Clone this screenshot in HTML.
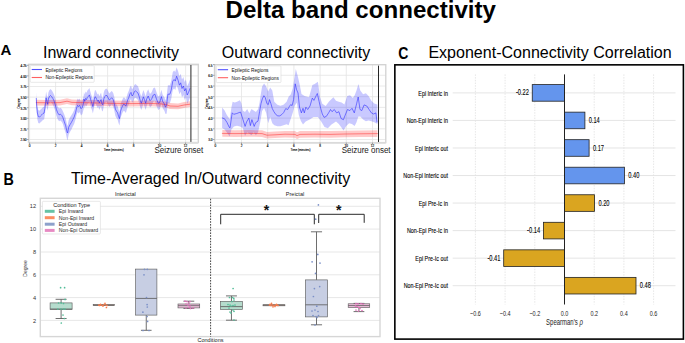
<!DOCTYPE html>
<html><head><meta charset="utf-8"><style>
html,body{margin:0;padding:0;background:#fff;}
body{width:685px;height:343px;overflow:hidden;}
svg{display:block;font-family:"Liberation Sans", sans-serif;}
</style></head><body>
<svg width="685" height="343" viewBox="0 0 685 343">
<text x="225.5" y="18" font-size="24.1" text-anchor="start" font-weight="bold" fill="#000" >Delta band connectivity</text>
<text x="0.4" y="54.6" font-size="15" text-anchor="start" font-weight="bold" fill="#000" >A</text>
<text x="43.0" y="57.5" font-size="16" text-anchor="start" font-weight="normal" fill="#000" >Inward connectivity</text>
<text x="221.8" y="57.5" font-size="16" text-anchor="start" font-weight="normal" fill="#000" >Outward connectivity</text>
<text x="398.2" y="59.1" font-size="15.6" font-weight="bold" transform="translate(398.2,0) scale(0.9,1) translate(-398.2,0)">C</text>
<text x="428.4" y="58.0" font-size="16.05" text-anchor="start" font-weight="normal" fill="#000" >Exponent-Connectivity Correlation</text>
<text x="3.6" y="184.6" font-size="15.6" font-weight="bold" transform="translate(3.6,0) scale(0.92,1) translate(-3.6,0)">B</text>
<text x="71" y="184.4" font-size="16" text-anchor="start" font-weight="normal" fill="#000" >Time-Averaged In/Outward connectivity</text>
<rect x="28.5" y="64.3" width="169.8" height="78.2" fill="#fff" stroke="none" stroke-width="1" />
<line x1="28.5" y1="65.3" x2="198.3" y2="65.3" stroke="#e4e4e4" stroke-width="0.8" />
<line x1="28.5" y1="75.89999999999999" x2="198.3" y2="75.89999999999999" stroke="#e4e4e4" stroke-width="0.8" />
<line x1="28.5" y1="86.5" x2="198.3" y2="86.5" stroke="#e4e4e4" stroke-width="0.8" />
<line x1="28.5" y1="97.1" x2="198.3" y2="97.1" stroke="#e4e4e4" stroke-width="0.8" />
<line x1="28.5" y1="107.69999999999999" x2="198.3" y2="107.69999999999999" stroke="#e4e4e4" stroke-width="0.8" />
<line x1="28.5" y1="118.3" x2="198.3" y2="118.3" stroke="#e4e4e4" stroke-width="0.8" />
<line x1="28.5" y1="128.89999999999998" x2="198.3" y2="128.89999999999998" stroke="#e4e4e4" stroke-width="0.8" />
<line x1="28.5" y1="139.5" x2="198.3" y2="139.5" stroke="#e4e4e4" stroke-width="0.8" />
<line x1="29.6" y1="64.3" x2="29.6" y2="142.5" stroke="#e4e4e4" stroke-width="0.8" />
<line x1="55.6" y1="64.3" x2="55.6" y2="142.5" stroke="#e4e4e4" stroke-width="0.8" />
<line x1="81.6" y1="64.3" x2="81.6" y2="142.5" stroke="#e4e4e4" stroke-width="0.8" />
<line x1="107.6" y1="64.3" x2="107.6" y2="142.5" stroke="#e4e4e4" stroke-width="0.8" />
<line x1="133.6" y1="64.3" x2="133.6" y2="142.5" stroke="#e4e4e4" stroke-width="0.8" />
<line x1="159.6" y1="64.3" x2="159.6" y2="142.5" stroke="#e4e4e4" stroke-width="0.8" />
<line x1="185.6" y1="64.3" x2="185.6" y2="142.5" stroke="#e4e4e4" stroke-width="0.8" />
<polygon points="36.3,92.0 36.7,99.6 37.4,106.6 38.3,110.1 39.4,110.7 40.6,109.5 41.8,108.4 42.9,107.2 44.1,106.6 44.9,101.9 45.6,96.1 46.1,91.4 46.8,94.9 47.6,97.9 48.4,92.6 49.3,90.3 50.5,89.1 51.7,90.3 52.8,92.0 54.0,94.4 55.2,98.1 56.4,103.0 57.7,106.4 59.1,108.5 60.5,107.8 61.8,109.1 62.9,111.2 64.3,114.5 65.7,118.6 67.1,125.0 67.6,125.8 68.7,120.0 70.1,117.3 71.4,115.2 72.8,112.9 74.2,110.1 75.5,106.0 76.6,101.2 77.6,98.5 78.6,99.8 79.7,98.5 81.0,101.9 82.4,100.5 83.8,95.0 83.9,92.2 84.8,94.5 85.6,91.6 86.5,92.8 87.4,90.5 88.6,89.3 89.4,88.1 90.2,91.0 91.2,94.5 92.1,96.9 92.9,99.8 93.5,96.9 94.3,92.8 95.0,89.9 95.8,90.5 96.8,92.8 97.6,94.5 98.4,93.4 99.3,96.3 100.3,94.0 101.1,92.8 101.9,96.9 102.8,98.0 103.8,92.2 104.6,89.9 105.8,88.7 106.9,88.7 108.1,91.0 109.3,93.4 110.4,92.2 111.6,91.0 112.2,91.4 113.2,92.9 114.2,96.5 115.4,102.4 116.5,104.5 117.6,106.0 118.6,109.6 119.5,111.8 120.5,104.5 121.5,101.6 122.7,98.7 123.8,97.2 124.8,98.0 125.9,99.4 126.7,96.5 127.8,92.9 128.8,90.7 130.0,87.0 131.0,85.6 132.1,89.2 133.2,87.8 134.3,84.9 135.5,84.1 136.5,84.9 138.0,86.3 139.0,89.2 140.2,93.6 141.3,96.5 142.3,93.6 143.4,90.0 144.5,92.9 145.7,96.5 146.7,92.2 148.2,89.2 149.3,92.2 150.0,93.9 151.6,92.3 153.3,88.2 154.9,87.4 156.5,92.3 158.2,96.4 159.8,95.5 161.4,89.8 162.7,94.7 164.4,97.2 165.5,100.4 166.6,95.8 167.9,85.2 169.9,85.2 171.2,81.1 172.8,72.1 174.1,70.5 175.3,72.1 176.6,67.2 178.1,71.3 179.4,76.2 180.7,73.8 182.0,79.5 183.4,77.0 184.6,81.9 185.9,79.5 187.2,86.0 188.5,83.5 190.0,79.5 190.0,97.5 188.5,101.5 187.2,104.0 185.9,97.5 184.6,99.9 183.4,95.0 182.0,97.5 180.7,91.8 179.4,94.2 178.1,89.3 176.6,85.2 175.3,90.1 174.1,88.5 172.8,90.1 171.2,99.1 169.9,103.2 167.9,103.2 166.6,113.8 165.5,114.0 164.4,110.8 162.7,108.3 161.4,103.4 159.8,109.1 158.2,110.0 156.5,105.9 154.9,101.0 153.3,101.8 151.6,105.9 150.0,107.5 149.3,105.8 148.2,102.8 146.7,105.8 145.7,110.1 144.5,106.5 143.4,103.6 142.3,107.2 141.3,110.1 140.2,107.2 139.0,102.8 138.0,99.9 136.5,98.5 135.5,97.7 134.3,98.5 133.2,101.4 132.1,102.8 131.0,99.2 130.0,100.6 128.8,104.3 127.8,106.5 126.7,110.1 125.9,113.0 124.8,111.6 123.8,110.8 122.7,112.3 121.5,115.2 120.5,118.1 119.5,125.4 118.6,123.2 117.6,119.6 116.5,118.1 115.4,116.0 114.2,110.1 113.2,106.5 112.2,105.0 111.6,104.6 110.4,105.8 109.3,107.0 108.1,104.6 106.9,102.3 105.8,102.3 104.6,103.5 103.8,105.8 102.8,111.6 101.9,110.5 101.1,106.4 100.3,107.6 99.3,109.9 98.4,107.0 97.6,108.1 96.8,106.4 95.8,104.1 95.0,103.5 94.3,106.4 93.5,110.5 92.9,113.4 92.1,110.5 91.2,108.1 90.2,104.6 89.4,101.7 88.6,102.9 87.4,104.1 86.5,106.4 85.6,105.2 84.8,108.1 83.9,105.8 83.8,108.6 82.4,114.1 81.0,115.5 79.7,112.1 78.6,113.4 77.6,112.1 76.6,114.8 75.5,119.6 74.2,123.7 72.8,126.5 71.4,129.6 70.1,131.7 68.7,134.4 67.6,140.2 67.1,139.4 65.7,133.0 64.3,128.9 62.9,124.0 61.8,121.9 60.5,120.6 59.1,121.3 57.7,119.2 56.4,115.8 55.2,110.9 54.0,107.2 52.8,104.8 51.7,103.1 50.5,101.9 49.3,103.1 48.4,105.4 47.6,110.7 46.8,107.7 46.1,104.2 45.6,108.9 44.9,114.7 44.1,119.4 42.9,120.0 41.8,121.2 40.6,122.3 39.4,123.5 38.3,122.9 37.4,119.4 36.7,112.4 36.3,104.8" fill="#0000ff" stroke="none" fill-opacity="0.21"/>
<polygon points="36.2,99.7 50.0,99.9 60.0,99.7 67.0,98.3 72.0,99.5 90.0,99.9 110.0,100.4 130.0,100.7 150.0,100.5 160.0,100.9 166.0,101.7 170.0,103.1 178.0,103.4 184.0,102.1 190.0,101.3 190.0,107.1 184.0,107.9 178.0,109.2 170.0,108.9 166.0,107.5 160.0,106.7 150.0,106.3 130.0,106.5 110.0,106.2 90.0,105.7 72.0,105.3 67.0,104.1 60.0,105.5 50.0,105.7 36.2,105.5" fill="#ff0000" stroke="none" fill-opacity="0.21"/>
<polyline points="36.2,102.6 50.0,102.8 60.0,102.6 67.0,101.2 72.0,102.4 90.0,102.8 110.0,103.3 130.0,103.6 150.0,103.4 160.0,103.8 166.0,104.6 170.0,106.0 178.0,106.3 184.0,105.0 190.0,104.2" fill="none" stroke="#ff2a2a" stroke-width="0.85" stroke-linejoin="round" stroke-linecap="round" stroke-opacity="0.6"/>
<polyline points="36.3,98.4 36.7,106.0 37.4,113.0 38.3,116.5 39.4,117.1 40.6,115.9 41.8,114.8 42.9,113.6 44.1,113.0 44.9,108.3 45.6,102.5 46.1,97.8 46.8,101.3 47.6,104.3 48.4,99.0 49.3,96.7 50.5,95.5 51.7,96.7 52.8,98.4 54.0,100.8 55.2,104.5 56.4,109.4 57.7,112.8 59.1,114.9 60.5,114.2 61.8,115.5 62.9,117.6 64.3,121.7 65.7,125.8 67.1,132.2 67.6,133.0 68.7,127.2 70.1,124.5 71.4,122.4 72.8,119.7 74.2,116.9 75.5,112.8 76.6,108.0 77.6,105.3 78.6,106.6 79.7,105.3 81.0,108.7 82.4,107.3 83.8,101.8 83.9,99.0 84.8,101.3 85.6,98.4 86.5,99.6 87.4,97.3 88.6,96.1 89.4,94.9 90.2,97.8 91.2,101.3 92.1,103.7 92.9,106.6 93.5,103.7 94.3,99.6 95.0,96.7 95.8,97.3 96.8,99.6 97.6,101.3 98.4,100.2 99.3,103.1 100.3,100.8 101.1,99.6 101.9,103.7 102.8,104.8 103.8,99.0 104.6,96.7 105.8,95.5 106.9,95.5 108.1,97.8 109.3,100.2 110.4,99.0 111.6,97.8 112.2,98.2 113.2,99.7 114.2,103.3 115.4,109.2 116.5,111.3 117.6,112.8 118.6,116.4 119.5,118.6 120.5,111.3 121.5,108.4 122.7,105.5 123.8,104.0 124.8,104.8 125.9,106.2 126.7,103.3 127.8,99.7 128.8,97.5 130.0,93.8 131.0,92.4 132.1,96.0 133.2,94.6 134.3,91.7 135.5,90.9 136.5,91.7 138.0,93.1 139.0,96.0 140.2,100.4 141.3,103.3 142.3,100.4 143.4,96.8 144.5,99.7 145.7,103.3 146.7,99.0 148.2,96.0 149.3,99.0 150.0,100.7 151.6,99.1 153.3,95.0 154.9,94.2 156.5,99.1 158.2,103.2 159.8,102.3 161.4,96.6 162.7,101.5 164.4,104.0 165.5,107.2 166.6,104.8 167.9,94.2 169.9,94.2 171.2,90.1 172.8,81.1 174.1,79.5 175.3,81.1 176.6,76.2 178.1,80.3 179.4,85.2 180.7,82.8 182.0,88.5 183.4,86.0 184.6,90.9 185.9,88.5 187.2,95.0 188.5,92.5 190.0,88.5" fill="none" stroke="#2525ff" stroke-width="0.8" stroke-linejoin="round" stroke-linecap="round" stroke-opacity="0.7"/>
<line x1="190.9" y1="65.1" x2="190.9" y2="142.5" stroke="#3a3a3a" stroke-width="1.1" />
<rect x="28.5" y="64.3" width="169.8" height="78.2" fill="none" stroke="#d2d2d2" stroke-width="1.3" />
<line x1="28.5" y1="143.1" x2="198.3" y2="143.1" stroke="#e2e2e2" stroke-width="1.6" />
<line x1="26.9" y1="65.3" x2="28.5" y2="65.3" stroke="#555" stroke-width="0.5" />
<text x="26.6" y="67.2" font-size="3.1" text-anchor="end" font-weight="normal" fill="#000" stroke="#000" stroke-width="0.12">4.25</text>
<line x1="26.9" y1="75.89999999999999" x2="28.5" y2="75.89999999999999" stroke="#555" stroke-width="0.5" />
<text x="26.6" y="77.8" font-size="3.1" text-anchor="end" font-weight="normal" fill="#000" stroke="#000" stroke-width="0.12">4.00</text>
<line x1="26.9" y1="86.5" x2="28.5" y2="86.5" stroke="#555" stroke-width="0.5" />
<text x="26.6" y="88.4" font-size="3.1" text-anchor="end" font-weight="normal" fill="#000" stroke="#000" stroke-width="0.12">3.75</text>
<line x1="26.9" y1="97.1" x2="28.5" y2="97.1" stroke="#555" stroke-width="0.5" />
<text x="26.6" y="99.0" font-size="3.1" text-anchor="end" font-weight="normal" fill="#000" stroke="#000" stroke-width="0.12">3.50</text>
<line x1="26.9" y1="107.69999999999999" x2="28.5" y2="107.69999999999999" stroke="#555" stroke-width="0.5" />
<text x="26.6" y="109.6" font-size="3.1" text-anchor="end" font-weight="normal" fill="#000" stroke="#000" stroke-width="0.12">3.25</text>
<line x1="26.9" y1="118.3" x2="28.5" y2="118.3" stroke="#555" stroke-width="0.5" />
<text x="26.6" y="120.2" font-size="3.1" text-anchor="end" font-weight="normal" fill="#000" stroke="#000" stroke-width="0.12">3.00</text>
<line x1="26.9" y1="128.89999999999998" x2="28.5" y2="128.89999999999998" stroke="#555" stroke-width="0.5" />
<text x="26.6" y="130.79999999999998" font-size="3.1" text-anchor="end" font-weight="normal" fill="#000" stroke="#000" stroke-width="0.12">2.75</text>
<line x1="26.9" y1="139.5" x2="28.5" y2="139.5" stroke="#555" stroke-width="0.5" />
<text x="26.6" y="141.4" font-size="3.1" text-anchor="end" font-weight="normal" fill="#000" stroke="#000" stroke-width="0.12">2.50</text>
<line x1="29.6" y1="142.5" x2="29.6" y2="144.1" stroke="#555" stroke-width="0.5" />
<text x="29.6" y="147.1" font-size="3.1" text-anchor="middle" font-weight="normal" fill="#000" stroke="#000" stroke-width="0.12">0</text>
<line x1="55.6" y1="142.5" x2="55.6" y2="144.1" stroke="#555" stroke-width="0.5" />
<text x="55.6" y="147.1" font-size="3.1" text-anchor="middle" font-weight="normal" fill="#000" stroke="#000" stroke-width="0.12">2</text>
<line x1="81.6" y1="142.5" x2="81.6" y2="144.1" stroke="#555" stroke-width="0.5" />
<text x="81.6" y="147.1" font-size="3.1" text-anchor="middle" font-weight="normal" fill="#000" stroke="#000" stroke-width="0.12">4</text>
<line x1="107.6" y1="142.5" x2="107.6" y2="144.1" stroke="#555" stroke-width="0.5" />
<text x="107.6" y="147.1" font-size="3.1" text-anchor="middle" font-weight="normal" fill="#000" stroke="#000" stroke-width="0.12">6</text>
<line x1="133.6" y1="142.5" x2="133.6" y2="144.1" stroke="#555" stroke-width="0.5" />
<text x="133.6" y="147.1" font-size="3.1" text-anchor="middle" font-weight="normal" fill="#000" stroke="#000" stroke-width="0.12">8</text>
<line x1="159.6" y1="142.5" x2="159.6" y2="144.1" stroke="#555" stroke-width="0.5" />
<text x="159.6" y="147.1" font-size="3.1" text-anchor="middle" font-weight="normal" fill="#000" stroke="#000" stroke-width="0.12">10</text>
<line x1="185.6" y1="142.5" x2="185.6" y2="144.1" stroke="#555" stroke-width="0.5" />
<text x="185.6" y="147.1" font-size="3.1" text-anchor="middle" font-weight="normal" fill="#000" stroke="#000" stroke-width="0.12">12</text>
<rect x="30.2" y="65.6" width="64.0" height="16.700000000000003" fill="#fff" stroke="#d8d8d8" stroke-width="0.6" rx="1" fill-opacity="0.85"/>
<line x1="31.7" y1="69.5" x2="42.0" y2="69.5" stroke="#5050ff" stroke-width="1.1" />
<line x1="31.7" y1="77.5" x2="42.0" y2="77.5" stroke="#ff6060" stroke-width="1.1" />
<text x="45.4" y="71.8" font-size="6" fill="#111" transform="translate(45.4,0) scale(0.8,1) translate(-45.4,0)">Epileptic Regions</text>
<text x="45.4" y="79.39999999999999" font-size="6" fill="#111" transform="translate(45.4,0) scale(0.8,1) translate(-45.4,0)">Non-Epileptic Regions</text>
<text x="0" y="0" font-size="3.1" fill="#000" stroke="#000" stroke-width="0.1" text-anchor="middle" transform="translate(20.4,103.4) rotate(-90)">Degree</text>
<text x="113.7" y="150.6" font-size="3.0" text-anchor="middle" font-weight="normal" fill="#000" stroke="#000" stroke-width="0.1">Time (minutes)</text>
<text x="154.4" y="152.6" font-size="8.6" fill="#1a1a1a" transform="translate(154.4,0) scale(0.93,1) translate(-154.4,0)">Seizure onset</text>
<rect x="214.5" y="64.7" width="171.3" height="77.89999999999999" fill="#fff" stroke="none" stroke-width="1" />
<line x1="214.5" y1="64.6" x2="385.8" y2="64.6" stroke="#e4e4e4" stroke-width="0.8" />
<line x1="214.5" y1="75.3" x2="385.8" y2="75.3" stroke="#e4e4e4" stroke-width="0.8" />
<line x1="214.5" y1="86.0" x2="385.8" y2="86.0" stroke="#e4e4e4" stroke-width="0.8" />
<line x1="214.5" y1="96.69999999999999" x2="385.8" y2="96.69999999999999" stroke="#e4e4e4" stroke-width="0.8" />
<line x1="214.5" y1="107.39999999999999" x2="385.8" y2="107.39999999999999" stroke="#e4e4e4" stroke-width="0.8" />
<line x1="214.5" y1="118.1" x2="385.8" y2="118.1" stroke="#e4e4e4" stroke-width="0.8" />
<line x1="214.5" y1="128.79999999999998" x2="385.8" y2="128.79999999999998" stroke="#e4e4e4" stroke-width="0.8" />
<line x1="214.5" y1="139.5" x2="385.8" y2="139.5" stroke="#e4e4e4" stroke-width="0.8" />
<line x1="215.3" y1="64.7" x2="215.3" y2="142.6" stroke="#e4e4e4" stroke-width="0.8" />
<line x1="241.5" y1="64.7" x2="241.5" y2="142.6" stroke="#e4e4e4" stroke-width="0.8" />
<line x1="267.7" y1="64.7" x2="267.7" y2="142.6" stroke="#e4e4e4" stroke-width="0.8" />
<line x1="293.9" y1="64.7" x2="293.9" y2="142.6" stroke="#e4e4e4" stroke-width="0.8" />
<line x1="320.1" y1="64.7" x2="320.1" y2="142.6" stroke="#e4e4e4" stroke-width="0.8" />
<line x1="346.3" y1="64.7" x2="346.3" y2="142.6" stroke="#e4e4e4" stroke-width="0.8" />
<line x1="372.5" y1="64.7" x2="372.5" y2="142.6" stroke="#e4e4e4" stroke-width="0.8" />
<polygon points="222.1,107.5 224.6,110.4 226.7,114.8 229.7,119.2 231.4,107.5 232.6,101.7 234.8,102.4 237.0,101.7 239.9,100.2 241.3,103.1 242.8,110.4 245.0,111.9 247.2,109.0 249.3,113.3 251.5,109.0 253.7,110.4 255.9,111.9 258.1,109.0 259.5,103.1 260.5,96.0 262.1,86.4 264.1,83.4 266.2,86.4 268.2,91.6 270.2,87.5 272.3,90.5 274.3,101.8 277.4,104.8 280.4,105.8 283.5,104.8 286.6,101.8 288.6,96.7 290.7,94.6 292.7,88.5 294.7,76.2 295.8,69.1 297.8,76.2 299.8,85.0 301.5,94.0 304.6,96.1 309.0,97.2 312.4,85.0 314.6,83.9 317.9,81.7 320.1,97.2 322.3,103.8 325.7,106.0 329.0,101.6 333.4,97.2 336.0,100.8 338.8,101.7 341.6,102.6 344.4,104.5 347.2,96.1 350.0,95.2 352.8,98.0 354.7,95.2 356.5,90.5 358.4,84.0 360.3,90.5 363.1,94.3 365.9,93.3 368.6,96.1 371.4,100.8 374.2,103.6 377.4,104.5 377.4,124.1 374.2,122.2 371.4,121.3 368.6,120.4 365.9,121.3 363.1,119.4 360.3,116.6 358.4,116.6 356.5,122.2 354.7,126.0 351.9,124.1 349.1,123.2 346.3,126.0 343.5,130.6 341.6,127.8 338.8,124.1 336.0,121.5 331.2,124.8 327.9,128.2 324.5,127.1 321.2,121.5 317.9,117.1 313.5,117.1 310.2,119.3 305.7,121.5 303.0,124.5 300.9,121.1 298.8,115.0 296.8,102.8 294.7,105.8 292.7,113.0 290.7,119.1 288.6,125.2 286.6,124.2 283.5,125.2 280.4,126.2 277.4,126.2 274.3,125.2 272.3,123.2 270.2,117.1 268.2,123.2 266.2,113.0 264.1,107.9 262.1,110.9 260.3,122.0 258.1,132.3 255.9,135.2 253.7,132.3 251.5,135.2 249.3,133.7 247.2,132.3 245.0,135.9 242.8,127.9 239.9,126.4 237.0,125.7 234.0,126.4 231.4,129.4 229.7,136.6 226.7,132.3 224.6,129.4 222.1,127.9" fill="#0000ff" stroke="none" fill-opacity="0.21"/>
<polygon points="222.3,130.1 235.0,130.3 250.0,130.1 262.0,130.3 267.0,131.9 275.0,131.5 285.0,130.9 295.0,131.1 297.0,132.3 300.0,131.1 315.0,130.9 330.0,131.1 345.0,130.7 360.0,130.5 377.4,130.3 377.4,136.9 360.0,137.1 345.0,137.3 330.0,137.7 315.0,137.5 300.0,137.7 297.0,138.9 295.0,137.7 285.0,137.5 275.0,138.1 267.0,138.5 262.0,136.9 250.0,136.7 235.0,136.9 222.3,136.7" fill="#ff0000" stroke="none" fill-opacity="0.21"/>
<polyline points="222.3,133.4 235.0,133.6 250.0,133.4 262.0,133.6 267.0,135.2 275.0,134.8 285.0,134.2 295.0,134.4 297.0,135.6 300.0,134.4 315.0,134.2 330.0,134.4 345.0,134.0 360.0,133.8 377.4,133.6" fill="none" stroke="#ff2a2a" stroke-width="0.85" stroke-linejoin="round" stroke-linecap="round" stroke-opacity="0.6"/>
<polyline points="222.3,118.0 224.6,118.8 227.0,122.5 229.2,127.2 230.0,127.9 232.2,112.8 233.7,114.3 236.8,113.5 240.5,112.0 242.0,116.5 245.1,126.4 246.6,121.9 248.9,118.0 250.4,125.6 251.9,119.6 254.2,126.4 255.7,122.6 258.0,121.1 259.6,111.5 261.0,103.6 262.4,98.7 263.9,95.7 265.3,97.7 266.9,103.6 268.3,104.6 269.5,99.6 270.9,103.6 272.3,108.6 273.8,111.5 275.8,114.5 277.8,115.9 279.8,115.9 281.8,114.5 283.7,112.5 285.7,108.6 287.7,109.5 289.3,106.6 290.7,104.6 292.1,105.6 293.6,99.6 295.2,83.8 296.6,89.7 298.0,93.0 299.5,107.2 301.4,112.9 303.0,108.3 304.3,112.9 305.9,107.2 307.7,109.5 310.0,106.0 312.3,98.1 313.9,100.4 316.1,95.8 317.3,93.5 319.1,101.5 320.7,108.3 322.3,114.0 324.1,117.4 326.4,116.3 328.6,112.9 330.5,109.5 332.0,111.7 334.3,109.5 336.6,112.9 338.9,111.7 341.1,118.5 343.4,119.7 345.2,115.1 347.5,109.5 349.8,110.6 352.0,108.3 354.3,112.9 356.6,103.8 358.2,97.0 360.0,109.5 361.8,110.6 364.1,104.9 366.8,106.0 369.1,109.5 371.4,112.9 373.6,114.0 375.9,112.9 377.0,122.0" fill="none" stroke="#2525ff" stroke-width="0.8" stroke-linejoin="round" stroke-linecap="round" stroke-opacity="0.7"/>
<line x1="378.5" y1="65.5" x2="378.5" y2="142.6" stroke="#262626" stroke-width="1.0" />
<rect x="214.5" y="64.7" width="171.3" height="77.89999999999999" fill="none" stroke="#d2d2d2" stroke-width="1.3" />
<line x1="214.5" y1="143.2" x2="385.8" y2="143.2" stroke="#e2e2e2" stroke-width="1.6" />
<line x1="212.9" y1="64.6" x2="214.5" y2="64.6" stroke="#555" stroke-width="0.5" />
<text x="212.6" y="66.5" font-size="3.1" text-anchor="end" font-weight="normal" fill="#000" stroke="#000" stroke-width="0.12">6.5</text>
<line x1="212.9" y1="75.3" x2="214.5" y2="75.3" stroke="#555" stroke-width="0.5" />
<text x="212.6" y="77.2" font-size="3.1" text-anchor="end" font-weight="normal" fill="#000" stroke="#000" stroke-width="0.12">6.0</text>
<line x1="212.9" y1="86.0" x2="214.5" y2="86.0" stroke="#555" stroke-width="0.5" />
<text x="212.6" y="87.9" font-size="3.1" text-anchor="end" font-weight="normal" fill="#000" stroke="#000" stroke-width="0.12">5.5</text>
<line x1="212.9" y1="96.69999999999999" x2="214.5" y2="96.69999999999999" stroke="#555" stroke-width="0.5" />
<text x="212.6" y="98.6" font-size="3.1" text-anchor="end" font-weight="normal" fill="#000" stroke="#000" stroke-width="0.12">5.0</text>
<line x1="212.9" y1="107.39999999999999" x2="214.5" y2="107.39999999999999" stroke="#555" stroke-width="0.5" />
<text x="212.6" y="109.3" font-size="3.1" text-anchor="end" font-weight="normal" fill="#000" stroke="#000" stroke-width="0.12">4.5</text>
<line x1="212.9" y1="118.1" x2="214.5" y2="118.1" stroke="#555" stroke-width="0.5" />
<text x="212.6" y="120.0" font-size="3.1" text-anchor="end" font-weight="normal" fill="#000" stroke="#000" stroke-width="0.12">4.0</text>
<line x1="212.9" y1="128.79999999999998" x2="214.5" y2="128.79999999999998" stroke="#555" stroke-width="0.5" />
<text x="212.6" y="130.7" font-size="3.1" text-anchor="end" font-weight="normal" fill="#000" stroke="#000" stroke-width="0.12">3.5</text>
<line x1="212.9" y1="139.5" x2="214.5" y2="139.5" stroke="#555" stroke-width="0.5" />
<text x="212.6" y="141.4" font-size="3.1" text-anchor="end" font-weight="normal" fill="#000" stroke="#000" stroke-width="0.12">3.0</text>
<line x1="215.3" y1="142.6" x2="215.3" y2="144.2" stroke="#555" stroke-width="0.5" />
<text x="215.3" y="147.2" font-size="3.1" text-anchor="middle" font-weight="normal" fill="#000" stroke="#000" stroke-width="0.12">0</text>
<line x1="241.5" y1="142.6" x2="241.5" y2="144.2" stroke="#555" stroke-width="0.5" />
<text x="241.5" y="147.2" font-size="3.1" text-anchor="middle" font-weight="normal" fill="#000" stroke="#000" stroke-width="0.12">2</text>
<line x1="267.7" y1="142.6" x2="267.7" y2="144.2" stroke="#555" stroke-width="0.5" />
<text x="267.7" y="147.2" font-size="3.1" text-anchor="middle" font-weight="normal" fill="#000" stroke="#000" stroke-width="0.12">4</text>
<line x1="293.9" y1="142.6" x2="293.9" y2="144.2" stroke="#555" stroke-width="0.5" />
<text x="293.9" y="147.2" font-size="3.1" text-anchor="middle" font-weight="normal" fill="#000" stroke="#000" stroke-width="0.12">6</text>
<line x1="320.1" y1="142.6" x2="320.1" y2="144.2" stroke="#555" stroke-width="0.5" />
<text x="320.1" y="147.2" font-size="3.1" text-anchor="middle" font-weight="normal" fill="#000" stroke="#000" stroke-width="0.12">8</text>
<line x1="346.3" y1="142.6" x2="346.3" y2="144.2" stroke="#555" stroke-width="0.5" />
<text x="346.3" y="147.2" font-size="3.1" text-anchor="middle" font-weight="normal" fill="#000" stroke="#000" stroke-width="0.12">10</text>
<line x1="372.5" y1="142.6" x2="372.5" y2="144.2" stroke="#555" stroke-width="0.5" />
<text x="372.5" y="147.2" font-size="3.1" text-anchor="middle" font-weight="normal" fill="#000" stroke="#000" stroke-width="0.12">12</text>
<rect x="216.3" y="65.8" width="64.69999999999999" height="16.799999999999997" fill="#fff" stroke="#d8d8d8" stroke-width="0.6" rx="1" fill-opacity="0.85"/>
<line x1="217.8" y1="69.7" x2="228.10000000000002" y2="69.7" stroke="#5050ff" stroke-width="1.1" />
<line x1="217.8" y1="77.7" x2="228.10000000000002" y2="77.7" stroke="#ff6060" stroke-width="1.1" />
<text x="231.5" y="72.0" font-size="6" fill="#111" transform="translate(231.5,0) scale(0.8,1) translate(-231.5,0)">Epileptic Regions</text>
<text x="231.5" y="79.6" font-size="6" fill="#111" transform="translate(231.5,0) scale(0.8,1) translate(-231.5,0)">Non-Epileptic Regions</text>
<text x="0" y="0" font-size="3.1" fill="#000" stroke="#000" stroke-width="0.1" text-anchor="middle" transform="translate(207.6,103.65) rotate(-90)">Degree</text>
<text x="300.5" y="150.6" font-size="3.0" text-anchor="middle" font-weight="normal" fill="#000" stroke="#000" stroke-width="0.1">Time (minutes)</text>
<text x="341.7" y="152.6" font-size="8.6" fill="#1a1a1a" transform="translate(341.7,0) scale(0.93,1) translate(-341.7,0)">Seizure onset</text>
<rect x="40.3" y="198.3" width="339.7" height="138.3" fill="#fff" stroke="none" stroke-width="1" />
<line x1="40.3" y1="206.3" x2="380.0" y2="206.3" stroke="#e4e4e4" stroke-width="0.9" />
<line x1="40.3" y1="229.1" x2="380.0" y2="229.1" stroke="#e4e4e4" stroke-width="0.9" />
<line x1="40.3" y1="252.0" x2="380.0" y2="252.0" stroke="#e4e4e4" stroke-width="0.9" />
<line x1="40.3" y1="274.8" x2="380.0" y2="274.8" stroke="#e4e4e4" stroke-width="0.9" />
<line x1="40.3" y1="297.6" x2="380.0" y2="297.6" stroke="#e4e4e4" stroke-width="0.9" />
<line x1="40.3" y1="320.4" x2="380.0" y2="320.4" stroke="#e4e4e4" stroke-width="0.9" />
<rect x="40.3" y="198.3" width="339.7" height="138.3" fill="none" stroke="#d6d6d6" stroke-width="1.4" />
<text x="36.0" y="208.3" font-size="5.6" text-anchor="end" font-weight="normal" fill="#333" >12</text>
<text x="36.0" y="231.1" font-size="5.6" text-anchor="end" font-weight="normal" fill="#333" >10</text>
<text x="36.0" y="254.0" font-size="5.6" text-anchor="end" font-weight="normal" fill="#333" >8</text>
<text x="36.0" y="276.8" font-size="5.6" text-anchor="end" font-weight="normal" fill="#333" >6</text>
<text x="36.0" y="299.6" font-size="5.6" text-anchor="end" font-weight="normal" fill="#333" >4</text>
<text x="36.0" y="323.0" font-size="5.6" text-anchor="end" font-weight="normal" fill="#333" >2</text>
<text x="0" y="0" font-size="5" fill="#333" text-anchor="middle" transform="translate(26.8,268.5) rotate(-90)">Degree</text>
<text x="125.4" y="196.0" font-size="5.5" text-anchor="middle" font-weight="normal" fill="#222" >Interictal</text>
<text x="295.0" y="196.0" font-size="5.5" text-anchor="middle" font-weight="normal" fill="#222" >Preictal</text>
<text x="210.5" y="342.0" font-size="5.5" text-anchor="middle" font-weight="normal" fill="#222" >Conditions</text>
<line x1="210.6" y1="198.8" x2="210.6" y2="336.6" stroke="#444" stroke-width="1.0" stroke-dasharray="1.6,1.2"/>
<line x1="61.099999999999994" y1="299.3" x2="61.099999999999994" y2="302.9" stroke="#5e5e5e" stroke-width="0.9" />
<line x1="55.599999999999994" y1="299.3" x2="66.6" y2="299.3" stroke="#5e5e5e" stroke-width="0.9" />
<line x1="61.099999999999994" y1="309.4" x2="61.099999999999994" y2="318.5" stroke="#5e5e5e" stroke-width="0.9" />
<line x1="55.599999999999994" y1="318.5" x2="66.6" y2="318.5" stroke="#5e5e5e" stroke-width="0.9" />
<rect x="50.1" y="302.9" width="21.999999999999993" height="6.5" fill="#b5dccd" stroke="#5e5e5e" stroke-width="0.65" />
<line x1="50.1" y1="309.0" x2="72.1" y2="309.0" stroke="#5e5e5e" stroke-width="0.85" />
<circle cx="60.6" cy="287.7" r="0.85" fill="#52bd98"/>
<circle cx="64.6" cy="287.7" r="0.85" fill="#52bd98"/>
<circle cx="65.1" cy="299.4" r="0.85" fill="#52bd98"/>
<circle cx="58.6" cy="303" r="0.85" fill="#52bd98"/>
<circle cx="61.2" cy="302.9" r="0.85" fill="#52bd98"/>
<circle cx="63.5" cy="303.5" r="0.85" fill="#52bd98"/>
<circle cx="57.8" cy="309" r="0.85" fill="#52bd98"/>
<circle cx="61" cy="309" r="0.85" fill="#52bd98"/>
<circle cx="63.5" cy="309" r="0.85" fill="#52bd98"/>
<circle cx="65" cy="309" r="0.85" fill="#52bd98"/>
<circle cx="63" cy="315" r="0.85" fill="#52bd98"/>
<circle cx="64.4" cy="318.5" r="0.85" fill="#52bd98"/>
<circle cx="61.3" cy="323" r="0.85" fill="#52bd98"/>
<rect x="93.2" y="304.6" width="21.099999999999994" height="1.0" fill="#fdc6b0" stroke="#5e5e5e" stroke-width="0.65" />
<line x1="93.2" y1="305.1" x2="114.3" y2="305.1" stroke="#5e5e5e" stroke-width="0.85" />
<circle cx="98.8" cy="305" r="0.85" fill="#fb7d4c"/>
<circle cx="99.5" cy="305.5" r="0.85" fill="#fb7d4c"/>
<circle cx="101" cy="305" r="0.85" fill="#fb7d4c"/>
<circle cx="102.5" cy="305.5" r="0.85" fill="#fb7d4c"/>
<circle cx="104" cy="304.5" r="0.85" fill="#fb7d4c"/>
<circle cx="105" cy="303.3" r="0.85" fill="#fb7d4c"/>
<circle cx="106" cy="305" r="0.85" fill="#fb7d4c"/>
<circle cx="107" cy="305.5" r="0.85" fill="#fb7d4c"/>
<circle cx="106.4" cy="307.5" r="0.85" fill="#fb7d4c"/>
<circle cx="103" cy="306" r="0.85" fill="#fb7d4c"/>
<circle cx="100.5" cy="304.4" r="0.85" fill="#fb7d4c"/>
<line x1="146.25" y1="315.1" x2="146.25" y2="330.3" stroke="#5e5e5e" stroke-width="0.9" />
<line x1="140.925" y1="330.3" x2="151.575" y2="330.3" stroke="#5e5e5e" stroke-width="0.9" />
<rect x="135.6" y="269.1" width="21.30000000000001" height="46.0" fill="#c7cee3" stroke="#5e5e5e" stroke-width="0.65" />
<line x1="135.6" y1="298.4" x2="156.9" y2="298.4" stroke="#5e5e5e" stroke-width="0.85" />
<circle cx="144" cy="274.8" r="0.85" fill="#7b90c8"/>
<circle cx="144.5" cy="269.3" r="0.85" fill="#7b90c8"/>
<circle cx="147.3" cy="269.3" r="0.85" fill="#7b90c8"/>
<circle cx="146.5" cy="297.5" r="0.85" fill="#7b90c8"/>
<circle cx="147.1" cy="304.6" r="0.85" fill="#7b90c8"/>
<circle cx="147.3" cy="307" r="0.85" fill="#7b90c8"/>
<circle cx="142.9" cy="312.2" r="0.85" fill="#7b90c8"/>
<circle cx="147.1" cy="316.5" r="0.85" fill="#7b90c8"/>
<circle cx="147.6" cy="321.4" r="0.85" fill="#7b90c8"/>
<circle cx="143" cy="330.5" r="0.85" fill="#7b90c8"/>
<circle cx="149" cy="330.5" r="0.85" fill="#7b90c8"/>
<line x1="188.85" y1="301.2" x2="188.85" y2="304.0" stroke="#5e5e5e" stroke-width="0.9" />
<line x1="183.425" y1="301.2" x2="194.27499999999998" y2="301.2" stroke="#5e5e5e" stroke-width="0.9" />
<line x1="188.85" y1="307.9" x2="188.85" y2="308.4" stroke="#5e5e5e" stroke-width="0.9" />
<line x1="183.425" y1="308.4" x2="194.27499999999998" y2="308.4" stroke="#5e5e5e" stroke-width="0.9" />
<rect x="178.0" y="304.0" width="21.69999999999999" height="3.8999999999999773" fill="#f3c4e1" stroke="#5e5e5e" stroke-width="0.65" />
<line x1="178.0" y1="305.7" x2="199.7" y2="305.7" stroke="#5e5e5e" stroke-width="0.85" />
<circle cx="185" cy="301.2" r="0.85" fill="#e673bd"/>
<circle cx="187" cy="301.5" r="0.85" fill="#e673bd"/>
<circle cx="190" cy="301.5" r="0.85" fill="#e673bd"/>
<circle cx="186" cy="304" r="0.85" fill="#e673bd"/>
<circle cx="188" cy="305" r="0.85" fill="#e673bd"/>
<circle cx="190" cy="306" r="0.85" fill="#e673bd"/>
<circle cx="189" cy="307.5" r="0.85" fill="#e673bd"/>
<circle cx="190.5" cy="308.5" r="0.85" fill="#e673bd"/>
<circle cx="186" cy="308" r="0.85" fill="#e673bd"/>
<circle cx="193" cy="308" r="0.85" fill="#e673bd"/>
<circle cx="188.5" cy="303" r="0.85" fill="#e673bd"/>
<line x1="231.45" y1="295.9" x2="231.45" y2="301.4" stroke="#5e5e5e" stroke-width="0.9" />
<line x1="225.975" y1="295.9" x2="236.92499999999998" y2="295.9" stroke="#5e5e5e" stroke-width="0.9" />
<line x1="231.45" y1="309.4" x2="231.45" y2="320.2" stroke="#5e5e5e" stroke-width="0.9" />
<line x1="225.975" y1="320.2" x2="236.92499999999998" y2="320.2" stroke="#5e5e5e" stroke-width="0.9" />
<rect x="220.5" y="301.4" width="21.900000000000006" height="8.0" fill="#b5dccd" stroke="#5e5e5e" stroke-width="0.65" />
<line x1="220.5" y1="306.6" x2="242.4" y2="306.6" stroke="#5e5e5e" stroke-width="0.85" />
<circle cx="233.1" cy="288.5" r="0.85" fill="#52bd98"/>
<circle cx="229.5" cy="297.5" r="0.85" fill="#52bd98"/>
<circle cx="232.5" cy="297.5" r="0.85" fill="#52bd98"/>
<circle cx="233.8" cy="298.3" r="0.85" fill="#52bd98"/>
<circle cx="234" cy="300" r="0.85" fill="#52bd98"/>
<circle cx="232" cy="301.5" r="0.85" fill="#52bd98"/>
<circle cx="228" cy="304.5" r="0.85" fill="#52bd98"/>
<circle cx="230" cy="305" r="0.85" fill="#52bd98"/>
<circle cx="231" cy="306" r="0.85" fill="#52bd98"/>
<circle cx="233" cy="305.5" r="0.85" fill="#52bd98"/>
<circle cx="235" cy="305" r="0.85" fill="#52bd98"/>
<circle cx="229" cy="308" r="0.85" fill="#52bd98"/>
<circle cx="233" cy="310" r="0.85" fill="#52bd98"/>
<circle cx="234" cy="311.3" r="0.85" fill="#52bd98"/>
<circle cx="230" cy="312" r="0.85" fill="#52bd98"/>
<circle cx="231" cy="313" r="0.85" fill="#52bd98"/>
<circle cx="234" cy="320" r="0.85" fill="#52bd98"/>
<rect x="263.0" y="304.7" width="21.899999999999977" height="1.1000000000000227" fill="#fdc6b0" stroke="#5e5e5e" stroke-width="0.65" />
<line x1="263.0" y1="305.2" x2="284.9" y2="305.2" stroke="#5e5e5e" stroke-width="0.85" />
<circle cx="269.5" cy="305" r="0.85" fill="#fb7d4c"/>
<circle cx="271" cy="305.5" r="0.85" fill="#fb7d4c"/>
<circle cx="272.5" cy="304.8" r="0.85" fill="#fb7d4c"/>
<circle cx="274" cy="305.5" r="0.85" fill="#fb7d4c"/>
<circle cx="275.5" cy="305" r="0.85" fill="#fb7d4c"/>
<circle cx="277" cy="305.2" r="0.85" fill="#fb7d4c"/>
<circle cx="271.5" cy="303.3" r="0.85" fill="#fb7d4c"/>
<circle cx="275" cy="306.5" r="0.85" fill="#fb7d4c"/>
<circle cx="273" cy="306.8" r="0.85" fill="#fb7d4c"/>
<circle cx="270" cy="304.3" r="0.85" fill="#fb7d4c"/>
<circle cx="276.5" cy="304.3" r="0.85" fill="#fb7d4c"/>
<circle cx="278" cy="305.5" r="0.85" fill="#fb7d4c"/>
<line x1="316.5" y1="231.8" x2="316.5" y2="279.9" stroke="#5e5e5e" stroke-width="0.9" />
<line x1="310.95" y1="231.8" x2="322.05" y2="231.8" stroke="#5e5e5e" stroke-width="0.9" />
<line x1="316.5" y1="316.9" x2="316.5" y2="324.8" stroke="#5e5e5e" stroke-width="0.9" />
<line x1="310.95" y1="324.8" x2="322.05" y2="324.8" stroke="#5e5e5e" stroke-width="0.9" />
<rect x="305.4" y="279.9" width="22.200000000000045" height="37.0" fill="#c7cee3" stroke="#5e5e5e" stroke-width="0.65" />
<line x1="305.4" y1="304.8" x2="327.6" y2="304.8" stroke="#5e5e5e" stroke-width="0.85" />
<circle cx="318.4" cy="204.9" r="0.85" fill="#7b90c8"/>
<circle cx="315.7" cy="219.2" r="0.85" fill="#7b90c8"/>
<circle cx="317.8" cy="254.4" r="0.85" fill="#7b90c8"/>
<circle cx="312.1" cy="261.8" r="0.85" fill="#7b90c8"/>
<circle cx="320" cy="263.1" r="0.85" fill="#7b90c8"/>
<circle cx="315.5" cy="273.4" r="0.85" fill="#7b90c8"/>
<circle cx="314.4" cy="288.6" r="0.85" fill="#7b90c8"/>
<circle cx="319.7" cy="286.6" r="0.85" fill="#7b90c8"/>
<circle cx="313.4" cy="296.5" r="0.85" fill="#7b90c8"/>
<circle cx="316.8" cy="306.2" r="0.85" fill="#7b90c8"/>
<circle cx="312" cy="311" r="0.85" fill="#7b90c8"/>
<circle cx="315" cy="310" r="0.85" fill="#7b90c8"/>
<circle cx="318" cy="311.5" r="0.85" fill="#7b90c8"/>
<circle cx="313" cy="315.5" r="0.85" fill="#7b90c8"/>
<circle cx="316" cy="316.5" r="0.85" fill="#7b90c8"/>
<circle cx="318.5" cy="315.5" r="0.85" fill="#7b90c8"/>
<circle cx="317" cy="317.5" r="0.85" fill="#7b90c8"/>
<circle cx="315" cy="325" r="0.85" fill="#7b90c8"/>
<line x1="358.95" y1="303.4" x2="358.95" y2="303.8" stroke="#5e5e5e" stroke-width="0.9" />
<line x1="353.575" y1="303.4" x2="364.325" y2="303.4" stroke="#5e5e5e" stroke-width="0.9" />
<line x1="358.95" y1="307.6" x2="358.95" y2="311.6" stroke="#5e5e5e" stroke-width="0.9" />
<line x1="353.575" y1="311.6" x2="364.325" y2="311.6" stroke="#5e5e5e" stroke-width="0.9" />
<rect x="348.2" y="303.8" width="21.5" height="3.8000000000000114" fill="#f3c4e1" stroke="#5e5e5e" stroke-width="0.65" />
<line x1="348.2" y1="305.6" x2="369.7" y2="305.6" stroke="#5e5e5e" stroke-width="0.85" />
<circle cx="356" cy="303.5" r="0.85" fill="#e673bd"/>
<circle cx="358" cy="303.8" r="0.85" fill="#e673bd"/>
<circle cx="361" cy="303.5" r="0.85" fill="#e673bd"/>
<circle cx="363" cy="304" r="0.85" fill="#e673bd"/>
<circle cx="355.5" cy="306" r="0.85" fill="#e673bd"/>
<circle cx="357" cy="306.5" r="0.85" fill="#e673bd"/>
<circle cx="359" cy="307.3" r="0.85" fill="#e673bd"/>
<circle cx="360" cy="308.5" r="0.85" fill="#e673bd"/>
<circle cx="356" cy="310" r="0.85" fill="#e673bd"/>
<circle cx="358.5" cy="311" r="0.85" fill="#e673bd"/>
<circle cx="362" cy="310.5" r="0.85" fill="#e673bd"/>
<path d="M220.7,224.3 L220.7,214.3 L314.3,214.3 L314.3,224.3" fill="none" stroke="#2a2a2a" stroke-width="1.0"/>
<text x="266.4" y="215.0" font-size="14" text-anchor="middle" font-weight="bold" fill="#111" >*</text>
<path d="M318.7,223.0 L318.7,214.3 L364.2,214.3 L364.2,222.8" fill="none" stroke="#2a2a2a" stroke-width="1.0"/>
<text x="338.7" y="215.0" font-size="14" text-anchor="middle" font-weight="bold" fill="#111" >*</text>
<rect x="42.4" y="201.3" width="58.0" height="32.7" fill="#fff" stroke="#d8d8d8" stroke-width="0.6" rx="1"/>
<text x="71.6" y="206.8" font-size="5.55" text-anchor="middle" font-weight="normal" fill="#222" >Condition Type</text>
<rect x="44.8" y="209.8" width="9.8" height="3.0" fill="#66c2a5" stroke="none" stroke-width="1" />
<text x="58.8" y="213.15" font-size="5.15" text-anchor="start" font-weight="normal" fill="#2a2a2a" >Epi Inward</text>
<rect x="44.8" y="216.2" width="9.8" height="3.0" fill="#fc8d62" stroke="none" stroke-width="1" />
<text x="58.8" y="219.54999999999998" font-size="5.15" text-anchor="start" font-weight="normal" fill="#2a2a2a" >Non-Epi Inward</text>
<rect x="44.8" y="222.7" width="9.8" height="3.0" fill="#8da0cb" stroke="none" stroke-width="1" />
<text x="58.8" y="226.04999999999998" font-size="5.15" text-anchor="start" font-weight="normal" fill="#2a2a2a" >Epi Outward</text>
<rect x="44.8" y="228.9" width="9.8" height="3.0" fill="#e78ac3" stroke="none" stroke-width="1" />
<text x="58.8" y="232.25" font-size="5.15" text-anchor="start" font-weight="normal" fill="#2a2a2a" >Non-Epi Outward</text>
<rect x="394.85" y="64.85" width="288.55" height="274.25" fill="#fff" stroke="#000" stroke-width="1.6" />
<line x1="475.4" y1="74.4" x2="475.4" y2="304.5" stroke="#dcdcdc" stroke-width="0.7" stroke-dasharray="1.5,1.2"/>
<line x1="505.1" y1="74.4" x2="505.1" y2="304.5" stroke="#dcdcdc" stroke-width="0.7" stroke-dasharray="1.5,1.2"/>
<line x1="534.8" y1="74.4" x2="534.8" y2="304.5" stroke="#dcdcdc" stroke-width="0.7" stroke-dasharray="1.5,1.2"/>
<line x1="594.2" y1="74.4" x2="594.2" y2="304.5" stroke="#dcdcdc" stroke-width="0.7" stroke-dasharray="1.5,1.2"/>
<line x1="623.9" y1="74.4" x2="623.9" y2="304.5" stroke="#dcdcdc" stroke-width="0.7" stroke-dasharray="1.5,1.2"/>
<line x1="653.6" y1="74.4" x2="653.6" y2="304.5" stroke="#dcdcdc" stroke-width="0.7" stroke-dasharray="1.5,1.2"/>
<line x1="452.7" y1="92.9" x2="675.5" y2="92.9" stroke="#e2e2e2" stroke-width="0.9" />
<line x1="452.7" y1="120.44" x2="675.5" y2="120.44" stroke="#e2e2e2" stroke-width="0.9" />
<line x1="452.7" y1="147.98000000000002" x2="675.5" y2="147.98000000000002" stroke="#e2e2e2" stroke-width="0.9" />
<line x1="452.7" y1="175.52" x2="675.5" y2="175.52" stroke="#e2e2e2" stroke-width="0.9" />
<line x1="452.7" y1="203.06" x2="675.5" y2="203.06" stroke="#e2e2e2" stroke-width="0.9" />
<line x1="452.7" y1="230.6" x2="675.5" y2="230.6" stroke="#e2e2e2" stroke-width="0.9" />
<line x1="452.7" y1="258.14" x2="675.5" y2="258.14" stroke="#e2e2e2" stroke-width="0.9" />
<line x1="452.7" y1="285.68" x2="675.5" y2="285.68" stroke="#e2e2e2" stroke-width="0.9" />
<rect x="532.25" y="84.60000000000001" width="32.25" height="16.6" fill="#6495ED" stroke="#222" stroke-width="0.8" />
<text x="448" y="95.65" font-size="8" text-anchor="end" fill="#000" stroke="#000" stroke-width="0.12" transform="translate(448,0) scale(0.675,1) translate(-448,0)">Epi Interic in</text>
<text x="528.95" y="95.5" font-size="8.4" text-anchor="end" fill="#000" stroke="#000" stroke-width="0.1" transform="translate(528.95,0) scale(0.68,1) translate(-528.95,0)">-0.22</text>
<rect x="564.5" y="112.14" width="20.399999999999977" height="16.6" fill="#6495ED" stroke="#222" stroke-width="0.8" />
<text x="448" y="123.19" font-size="8" text-anchor="end" fill="#000" stroke="#000" stroke-width="0.12" transform="translate(448,0) scale(0.675,1) translate(-448,0)">Non-Epi Interic in</text>
<text x="588.6999999999999" y="123.03999999999999" font-size="8.4" text-anchor="start" fill="#000" stroke="#000" stroke-width="0.1" transform="translate(588.6999999999999,0) scale(0.68,1) translate(-588.6999999999999,0)">0.14</text>
<rect x="564.5" y="139.68" width="24.600000000000023" height="16.6" fill="#6495ED" stroke="#222" stroke-width="0.8" />
<text x="448" y="150.73000000000002" font-size="8" text-anchor="end" fill="#000" stroke="#000" stroke-width="0.12" transform="translate(448,0) scale(0.675,1) translate(-448,0)">Epi Interic out</text>
<text x="592.9" y="150.58" font-size="8.4" text-anchor="start" fill="#000" stroke="#000" stroke-width="0.1" transform="translate(592.9,0) scale(0.68,1) translate(-592.9,0)">0.17</text>
<rect x="564.5" y="167.22" width="59.89999999999998" height="16.6" fill="#6495ED" stroke="#222" stroke-width="0.8" />
<text x="448" y="178.27" font-size="8" text-anchor="end" fill="#000" stroke="#000" stroke-width="0.12" transform="translate(448,0) scale(0.675,1) translate(-448,0)">Non-Epi Interic out</text>
<text x="628.1999999999999" y="178.12" font-size="8.4" text-anchor="start" fill="#000" stroke="#000" stroke-width="0.1" transform="translate(628.1999999999999,0) scale(0.68,1) translate(-628.1999999999999,0)">0.40</text>
<rect x="564.5" y="194.76" width="30.100000000000023" height="16.6" fill="#DAA520" stroke="#222" stroke-width="0.8" />
<text x="448" y="205.81" font-size="8" text-anchor="end" fill="#000" stroke="#000" stroke-width="0.12" transform="translate(448,0) scale(0.675,1) translate(-448,0)">Epi Pre-Ic in</text>
<text x="598.4" y="205.66" font-size="8.4" text-anchor="start" fill="#000" stroke="#000" stroke-width="0.1" transform="translate(598.4,0) scale(0.68,1) translate(-598.4,0)">0.20</text>
<rect x="543.4" y="222.29999999999998" width="21.100000000000023" height="16.6" fill="#DAA520" stroke="#222" stroke-width="0.8" />
<text x="448" y="233.35" font-size="8" text-anchor="end" fill="#000" stroke="#000" stroke-width="0.12" transform="translate(448,0) scale(0.675,1) translate(-448,0)">Non-Epi Pre-Ic in</text>
<text x="540.1" y="233.2" font-size="8.4" text-anchor="end" fill="#000" stroke="#000" stroke-width="0.1" transform="translate(540.1,0) scale(0.68,1) translate(-540.1,0)">-0.14</text>
<rect x="503.7" y="249.83999999999997" width="60.80000000000001" height="16.6" fill="#DAA520" stroke="#222" stroke-width="0.8" />
<text x="448" y="260.89" font-size="8" text-anchor="end" fill="#000" stroke="#000" stroke-width="0.12" transform="translate(448,0) scale(0.675,1) translate(-448,0)">Epi Pre-Ic out</text>
<text x="500.4" y="260.74" font-size="8.4" text-anchor="end" fill="#000" stroke="#000" stroke-width="0.1" transform="translate(500.4,0) scale(0.68,1) translate(-500.4,0)">-0.41</text>
<rect x="564.5" y="277.38" width="71.5" height="16.6" fill="#DAA520" stroke="#222" stroke-width="0.8" />
<text x="448" y="288.43" font-size="8" text-anchor="end" fill="#000" stroke="#000" stroke-width="0.12" transform="translate(448,0) scale(0.675,1) translate(-448,0)">Non-Epi Pre-Ic out</text>
<text x="639.8" y="288.28000000000003" font-size="8.4" text-anchor="start" fill="#000" stroke="#000" stroke-width="0.1" transform="translate(639.8,0) scale(0.68,1) translate(-639.8,0)">0.48</text>
<line x1="564.5" y1="74.4" x2="564.5" y2="304.5" stroke="#222" stroke-width="1.0" />
<text x="475.4" y="315.8" font-size="7.6" text-anchor="middle" fill="#222" transform="translate(475.4,0) scale(0.72,1) translate(-475.4,0)">−0.6</text>
<text x="505.1" y="315.8" font-size="7.6" text-anchor="middle" fill="#222" transform="translate(505.1,0) scale(0.72,1) translate(-505.1,0)">−0.4</text>
<text x="534.8" y="315.8" font-size="7.6" text-anchor="middle" fill="#222" transform="translate(534.8,0) scale(0.72,1) translate(-534.8,0)">−0.2</text>
<text x="564.5" y="315.8" font-size="7.6" text-anchor="middle" fill="#222" transform="translate(564.5,0) scale(0.72,1) translate(-564.5,0)">0.0</text>
<text x="594.2" y="315.8" font-size="7.6" text-anchor="middle" fill="#222" transform="translate(594.2,0) scale(0.72,1) translate(-594.2,0)">0.2</text>
<text x="623.9" y="315.8" font-size="7.6" text-anchor="middle" fill="#222" transform="translate(623.9,0) scale(0.72,1) translate(-623.9,0)">0.4</text>
<text x="653.6" y="315.8" font-size="7.6" text-anchor="middle" fill="#222" transform="translate(653.6,0) scale(0.72,1) translate(-653.6,0)">0.6</text>
<text x="564.5" y="325.0" font-size="8.8" text-anchor="middle" fill="#222" transform="translate(564.5,0) scale(0.68,1) translate(-564.5,0)">Spearman's <tspan font-style="italic">ρ</tspan></text>
</svg>
</body></html>
